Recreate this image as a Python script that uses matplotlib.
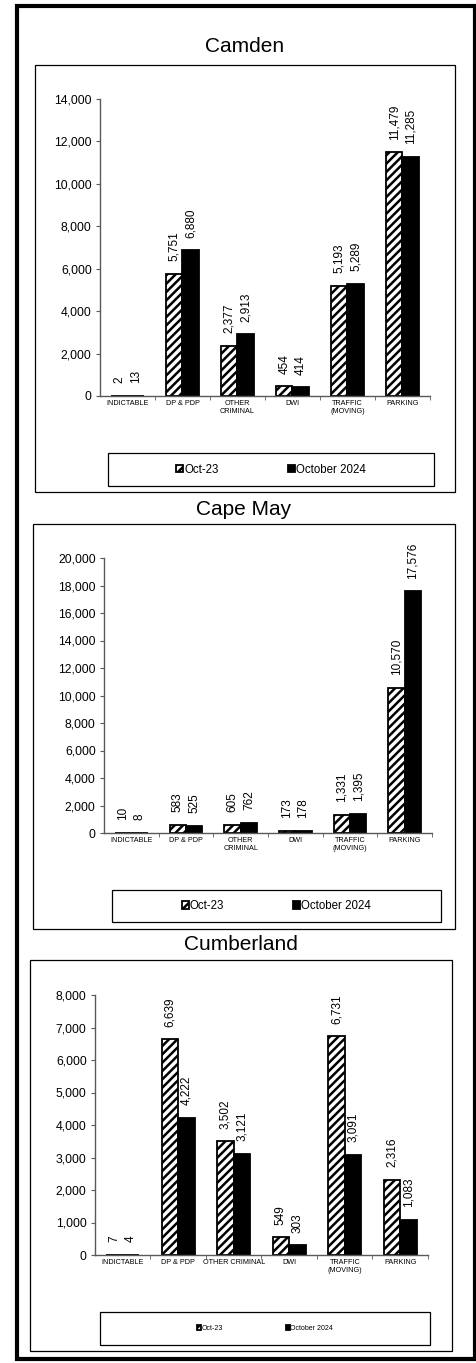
import numpy as np
import matplotlib
matplotlib.use("Agg")
import matplotlib.pyplot as plt
from matplotlib.patches import Rectangle

plt.rcParams['font.family'] = ['Liberation Sans', 'DejaVu Sans']
plt.rcParams['hatch.linewidth'] = 1.8

# data
cats_a = ['INDICTABLE', 'DP & PDP', 'OTHER\nCRIMINAL', 'DWI', 'TRAFFIC\n(MOVING)', 'PARKING']
cats_b = ['INDICTABLE', 'DP & PDP', 'OTHER CRIMINAL', 'DWI', 'TRAFFIC\n(MOVING)', 'PARKING']
series_names = ['Oct-23', 'October 2024']

camden_2023 = [2, 5751, 2377, 454, 5193, 11479]
camden_2024 = [13, 6880, 2913, 414, 5289, 11285]
capemay_2023 = [10, 583, 605, 173, 1331, 10570]
capemay_2024 = [8, 525, 762, 178, 1395, 17576]
cumb_2023 = [7, 6639, 3502, 549, 6731, 2316]
cumb_2024 = [4, 4222, 3121, 303, 3091, 1083]

W, H = 477, 1363
fig = plt.figure(figsize=(W / 100, H / 100), dpi=100)


def px_rect(x0, y0, x1, y1):
    # pixel box (top-left origin) -> figure fraction [l, b, w, h]
    return [x0 / W, 1 - y1 / H, (x1 - x0) / W, (y1 - y0) / H]


def box(x0, y0, x1, y1, lw=0.9, color='black'):
    l, b, w, h = px_rect(x0, y0, x1, y1)
    fig.patches.append(Rectangle((l, b), w, h, transform=fig.transFigure,
                                 fill=False, lw=lw, edgecolor=color))


# outer frame
box(17, 6, 475, 1359, lw=3.0)


def panel(title, cats, v23, v24, ymax, ystep, frame, axbox, title_y, leg_box,
          leg_fs=8.3, colsp=6.0):
    box(*frame)
    fig.text((frame[0] + frame[2]) / 2 / W, 1 - title_y / H, title,
             ha='center', va='center', fontsize=15)
    ax = fig.add_axes(px_rect(*axbox))
    x = np.arange(len(cats))
    w = 0.3
    b1 = ax.bar(x - w / 2, v23, w, facecolor='white', edgecolor='black',
                hatch='////', lw=1.3, label=series_names[0])
    b2 = ax.bar(x + w / 2, v24, w, facecolor='black', edgecolor='black',
                lw=1.3, label=series_names[1])
    for bars, vals in ((b1, v23), (b2, v24)):
        for r, v in zip(bars, vals):
            ax.annotate(f'{v:,}', (r.get_x() + r.get_width() / 2, r.get_height()),
                        xytext=(0, 9), textcoords='offset points',
                        rotation=90, ha='center', va='bottom', fontsize=8.5)
    ax.set_xlim(-0.5, len(cats) - 0.5)
    ax.set_ylim(0, ymax)
    ax.set_yticks(np.arange(0, ymax + 1, ystep))
    ax.yaxis.set_major_formatter(matplotlib.ticker.FuncFormatter(lambda v, p: f'{int(v):,}'))
    ax.set_xticks(x)
    ax.set_xticklabels(cats, fontsize=5.2)
    ax.set_xticks(np.arange(0.5, len(cats) - 0.4, 1), minor=True)
    ax.tick_params(axis='x', which='major', length=0, pad=3)
    ax.tick_params(axis='x', which='minor', length=3, color='#595959')
    ax.tick_params(axis='y', labelsize=8.8, length=3, color='#595959', pad=3)
    for s in ('top', 'right'):
        ax.spines[s].set_visible(False)
    for s in ('left', 'bottom'):
        ax.spines[s].set_color('#595959')
        ax.spines[s].set_linewidth(1.0)
    ax.set_facecolor('none')

    box(*leg_box)
    l, b, ww, hh = px_rect(*leg_box)
    fig.legend(handles=[b1, b2], loc='center', bbox_to_anchor=(l + ww / 2, b + hh / 2),
               bbox_transform=fig.transFigure, ncol=2, frameon=False,
               fontsize=leg_fs, handlelength=0.6, handleheight=0.6,
               handletextpad=0.1, columnspacing=colsp)
    return ax


panel('Camden', cats_a, camden_2023, camden_2024, 14000, 2000,
      (35, 65, 455, 492), (100, 99, 430, 396), 47, (108, 453, 434, 486))
panel('Cape May', cats_a, capemay_2023, capemay_2024, 20000, 2000,
      (33, 524, 455, 929), (104, 558, 432, 833), 510, (112, 890, 441, 922))
panel('Cumberland', cats_b, cumb_2023, cumb_2024, 8000, 1000,
      (30, 960, 452, 1351), (95, 995, 428, 1255), 944, (100, 1312, 430, 1345),
      leg_fs=5.0, colsp=9.0)

fig.savefig('out.png', dpi=100)
